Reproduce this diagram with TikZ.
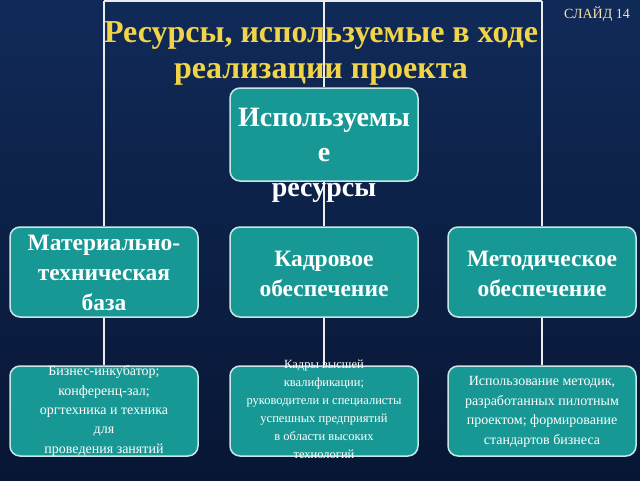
\documentclass[tikz,border=0pt]{standalone}
\usepackage{fontspec}
\setmainfont{Liberation Serif}
\definecolor{bgtop}{RGB}{16,42,88}
\definecolor{bgmid}{RGB}{34,76,138}
\definecolor{bgbot}{RGB}{8,22,52}
\definecolor{boxfill}{RGB}{24,152,148}
\definecolor{boxline}{RGB}{200,232,232}
\definecolor{titleyellow}{RGB}{242,212,72}
\definecolor{slidecol}{RGB}{240,228,170}
\tikzset{
  box/.style={draw=boxline, line width=1.5pt, fill=boxfill, rounded corners=10pt,
    minimum width=188pt, minimum height=90pt, inner sep=0pt},
  boxtext/.style={text=white, align=center, inner sep=0pt},
  link/.style={draw=white!85!gray, line width=1.3pt},
  titletext/.style={text=titleyellow, font=\bfseries\fontsize{32}{36}\selectfont, align=center, inner sep=0pt}
}
\begin{document}
\begin{tikzpicture}[x=1pt,y=-1pt]
\shade[top color=bgtop, middle color=bgmid, bottom color=bgbot] (0,0) rectangle (640,480);
\useasboundingbox (0,0) rectangle (640,480);
% boxes
\node[box, minimum height=93pt] (top) at (324,134.5) {};
\node[box] (mat) at (104,272) {};
\node[box] (kad) at (324,272) {};
\node[box] (met) at (542,272) {};
\node[box] (bmat) at (104,411) {};
\node[box] (bkad) at (324,411) {};
\node[box] (bmet) at (542,411) {};
% connectors
\coordinate (t1) at (104,1);
\coordinate (t2) at (324,1);
\coordinate (t3) at (542,1);
\draw[link] (t1) -- (t3);
\draw[link] (t1) -- (mat.north);
\draw[link] (t2) -- (top.north);
\draw[link] (t3) -- (met.north);
\draw[link] (top.south) -- (kad.north);
\draw[link] (mat.south) -- (bmat.north);
\draw[link] (kad.south) -- (bkad.north);
\draw[link] (met.south) -- (bmet.north);
% title
\node[titletext] (title) at (321,53) {Ресурсы, используемые в ходе\\реализации проекта};
\node[text=slidecol, font=\fontsize{14}{16}\selectfont, inner sep=0pt] (slide) at (597,14) {СЛАЙД 14};
% box texts
\node[boxtext, font=\bfseries\fontsize{28}{35}\selectfont] (toptext) at (324,155) {Используемы\\е\\ресурсы};
\node[boxtext, font=\bfseries\fontsize{23.5}{30}\selectfont] (mattext) at (104,273) {Материально-\\техническая\\база};
\node[boxtext, font=\bfseries\fontsize{23.5}{30}\selectfont] (kadtext) at (324,274) {Кадровое\\обеспечение};
\node[boxtext, font=\bfseries\fontsize{23.5}{30}\selectfont] (mettext) at (542,274) {Методическое\\обеспечение};
\node[boxtext, font=\fontsize{14}{19.3}\selectfont] (bmattext) at (104,411) {Бизнес-инкубатор;\\конференц-зал;\\оргтехника и техника\\для\\проведения занятий};
\node[boxtext, font=\fontsize{12.5}{18}\selectfont] (bkadtext) at (324,409) {Кадры высшей\\квалификации;\\руководители и специалисты\\успешных предприятий\\в области высоких\\технологий};
\node[boxtext, font=\fontsize{14}{19.7}\selectfont] (bmettext) at (542,412) {Использование методик,\\разработанных пилотным\\проектом; формирование\\стандартов бизнеса};
\end{tikzpicture}
\end{document}
